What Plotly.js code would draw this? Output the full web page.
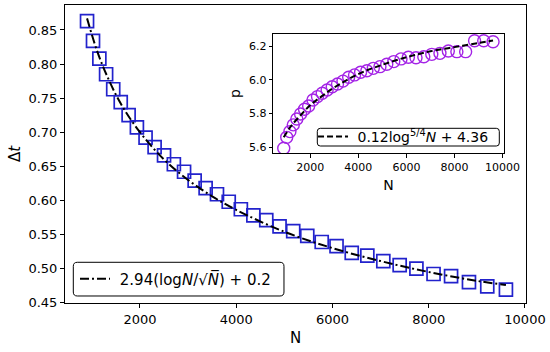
<!DOCTYPE html>
<html>
<head>
<meta charset="utf-8">
<script src="https://cdn.plot.ly/plotly-3.0.1.min.js"></script>
<style>html,body{margin:0;padding:0;background:#fff}#chart{width:550px;height:352px}</style>
</head>
<body>
<div id="chart"></div>
<script>
// System sizes N
const N = [900,1024,1156,1296,1444,1600,1764,1936,2116,2304,2500,2704,2916,3136,3364,3600,3844,4096,4356,4624,4900,5184,5476,5776,6084,6400,6724,7056,7396,7744,8100,8464,8836,9216,9604];
// Main plot: Δt values (squares)
const dt = [0.863,0.834,0.808,0.785,0.763,0.744,0.725,0.707,0.692,0.678,0.666,0.653,0.642,0.629,0.618,0.609,0.598,0.587,0.578,0.571,0.562,0.555,0.548,0.539,0.533,0.523,0.519,0.511,0.505,0.500,0.492,0.489,0.480,0.474,0.469];
// Main fit curve
const fitN = [900,1100,1300,1600,2000,2500,3000,3500,4000,5000,6000,7000,8000,9000,9604];
const fitDt = [0.867,0.821,0.785,0.742,0.700,0.660,0.630,0.606,0.586,0.554,0.530,0.511,0.495,0.482,0.476];
// Inset: p values (circles)
const p = [5.594,5.659,5.693,5.733,5.768,5.798,5.826,5.845,5.881,5.901,5.921,5.940,5.960,5.976,5.993,6.016,6.030,6.046,6.055,6.069,6.079,6.093,6.109,6.125,6.135,6.132,6.138,6.152,6.158,6.172,6.168,6.168,6.233,6.233,6.227];
// Inset fit curve
const fitN2 = [900,1200,1600,2000,2500,3000,4000,5000,6000,7000,8000,9000,9604];
const fitP = [5.660,5.725,5.790,5.850,5.905,5.955,6.035,6.090,6.135,6.170,6.195,6.220,6.235];
// Labels
const mainLegend = " 2.94(log<i>N</i>/√<i>N̅</i>) + 0.2";
const insetLegend = " 0.12log<sup>5/4</sup><i>N</i> + 4.36";
const ticksX = [2000,4000,6000,8000,10000];
const ticksXText = ['2000','4000','6000','8000','10000'];
const mainTicksY = [0.45,0.50,0.55,0.60,0.65,0.70,0.75,0.80,0.85];
const insetTicksY = [5.6,5.8,6.0,6.2];

const FONT = "DejaVu Sans, sans-serif";

const traces = [
  {x: N, y: dt, type: 'scatter', mode: 'markers', xaxis: 'x', yaxis: 'y', showlegend: false,
   marker: {symbol: 'square-open', size: 13, color: '#2222cc', line: {width: 1.7, color: '#2222cc'}}},
  {x: fitN, y: fitDt, type: 'scatter', mode: 'lines', xaxis: 'x', yaxis: 'y', name: mainLegend,
   line: {color: '#000', width: 2, dash: '9px,3px,2px,3px', shape: 'spline'}, legend: 'legend'},
  {x: N, y: p, type: 'scatter', mode: 'markers', xaxis: 'x2', yaxis: 'y2', showlegend: false,
   marker: {symbol: 'circle-open', size: 12, color: '#a424e6', line: {width: 1.4, color: '#a424e6'}}},
  {x: fitN2, y: fitP, type: 'scatter', mode: 'lines', xaxis: 'x2', yaxis: 'y2', name: insetLegend,
   line: {color: '#000', width: 2, dash: '6px,3px', shape: 'spline'}, legend: 'legend2'}
];

const axCommon = {showgrid: false, zeroline: false, showline: true, linecolor: '#000', linewidth: 1,
  mirror: true, ticks: 'outside', ticklen: 4, tickwidth: 1, tickcolor: '#000'};

const layout = {
  width: 550, height: 352,
  margin: {l: 65, r: 24, t: 5, b: 49},
  paper_bgcolor: '#fff', plot_bgcolor: '#fff',
  font: {family: FONT, color: '#000', size: 13},
  xaxis: Object.assign({}, axCommon, {domain: [0, 1], range: [442, 10021], tickvals: ticksX, ticktext: ticksXText,
    tickfont: {size: 13}, title: {text: 'N', font: {size: 15}, standoff: 6}}),
  yaxis: Object.assign({}, axCommon, {domain: [0, 1], range: [0.4495, 0.8866], tickvals: mainTicksY,
    tickformat: '.2f', tickfont: {size: 13}, title: {text: 'Δ<i>t</i>', font: {size: 15}, standoff: 4}}),
  xaxis2: Object.assign({}, axCommon, {anchor: 'y2', domain: [0.4518, 0.9512], range: [465, 10039],
    tickvals: ticksX, ticktext: ticksXText, tickfont: {size: 11}, ticklen: 3.5,
    title: {text: 'N', font: {size: 14}, standoff: 7}}),
  yaxis2: Object.assign({}, axCommon, {anchor: 'x2', domain: [0.5023, 0.9027], range: [5.564, 6.273],
    tickvals: insetTicksY, tickformat: '.1f', tickfont: {size: 11}, ticklen: 3.5,
    title: {text: 'p', font: {size: 14}, standoff: 5}}),
  legend: {x: 0.0217, xanchor: 'left', y: 0.0805, yanchor: 'middle', bgcolor: 'rgba(0,0,0,0)',
    borderwidth: 0, font: {size: 15, family: FONT}},
  legend2: {x: 0.538, xanchor: 'left', y: 0.557, yanchor: 'middle', bgcolor: 'rgba(0,0,0,0)',
    borderwidth: 0, font: {size: 14, family: FONT}},
  shapes: [
    {type: 'path', xref: 'paper', yref: 'paper', layer: 'below',
     path: 'M 0.0267 0.0235 L 0.4663 0.0235 Q 0.475 0.0235 0.475 0.0369 L 0.475 0.1232 Q 0.475 0.1366 0.4663 0.1366 L 0.0267 0.1366 Q 0.018 0.1366 0.018 0.1232 L 0.018 0.0369 Q 0.018 0.0235 0.0267 0.0235 Z',
     line: {color: '#000', width: 1}, fillcolor: '#fff'},
    {type: 'path', xref: 'paper', yref: 'paper', layer: 'above',
     path: 'M 0.5538 0.5268 L 0.9356 0.5268 Q 0.9421 0.5268 0.9421 0.5368 L 0.9421 0.5762 Q 0.9421 0.5862 0.9356 0.5862 L 0.5538 0.5862 Q 0.5473 0.5862 0.5473 0.5762 L 0.5473 0.5368 Q 0.5473 0.5268 0.5538 0.5268 Z',
     line: {color: '#000', width: 1}, fillcolor: 'rgba(255,255,255,0.8)'}
  ]
};

Plotly.newPlot('chart', traces, layout, {staticPlot: true, displayModeBar: false});
</script>
</body>
</html>
